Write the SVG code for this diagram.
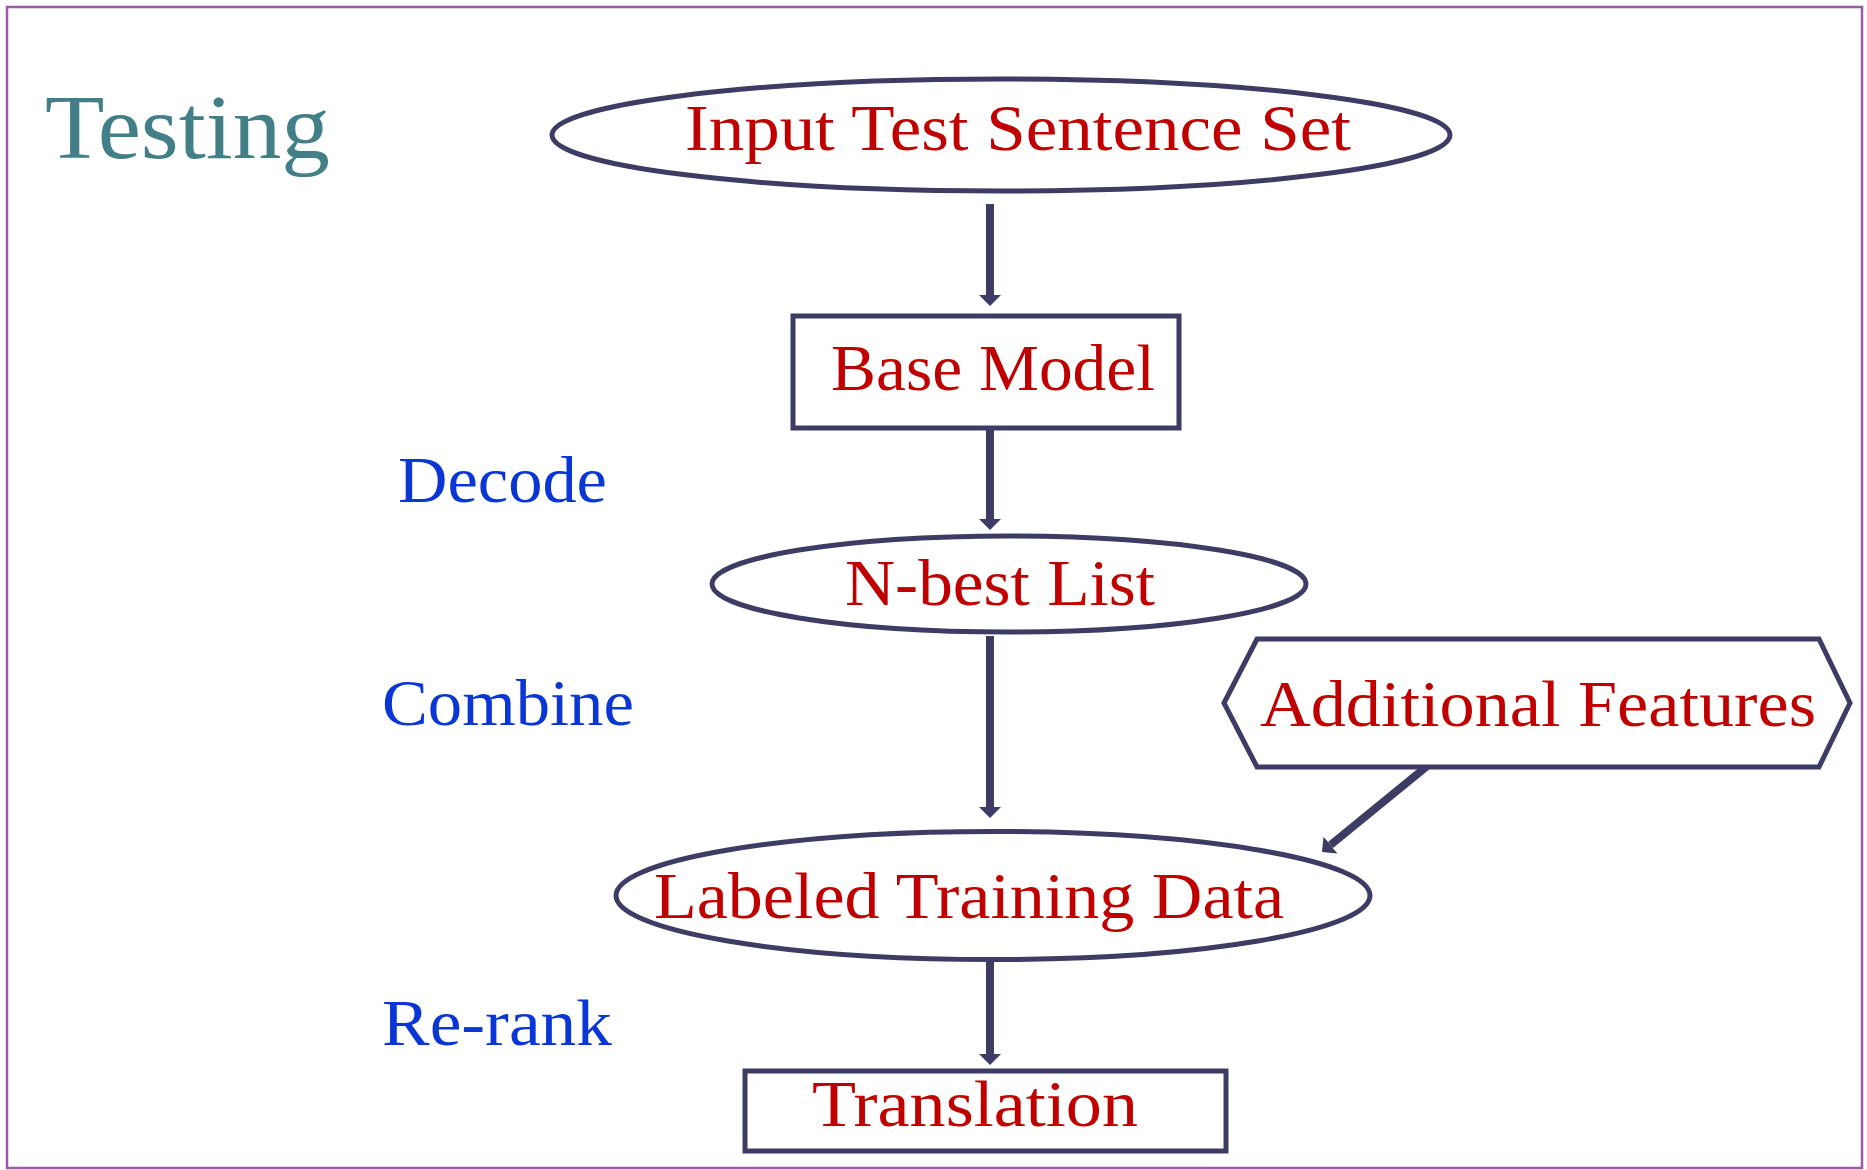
<svg xmlns="http://www.w3.org/2000/svg" width="1867" height="1170" viewBox="0 0 1867 1170">
<style>
.shape{fill:#ffffff;stroke:#3c3c64;stroke-width:5}
.red{font-family:"Liberation Serif",serif;font-size:65px;fill:#c00000}
.blue{font-family:"Liberation Serif",serif;font-size:66px;fill:#0a36d6}
.title{font-family:"Liberation Serif",serif;font-size:92px;fill:#437f86}
.conn{stroke:#3c3c64;stroke-width:8;fill:none}
</style>
<defs>
<marker id="ah" viewBox="0 -11 11 22" markerWidth="11" markerHeight="22" refX="0" refY="0" orient="auto" markerUnits="userSpaceOnUse">
<path d="M0,-11 L11,0 L0,11 z" fill="#3c3c64"/>
</marker>
</defs>
<rect x="7" y="7" width="1855" height="1161" fill="#ffffff" stroke="#9b59a6" stroke-width="2.5"/>
<text class="title" x="45" y="158" textLength="285" lengthAdjust="spacingAndGlyphs">Testing</text>
<text class="blue" x="398" y="502" textLength="209" lengthAdjust="spacingAndGlyphs">Decode</text>
<text class="blue" x="382" y="725" textLength="252" lengthAdjust="spacingAndGlyphs">Combine</text>
<text class="blue" x="382" y="1045" textLength="230" lengthAdjust="spacingAndGlyphs">Re-rank</text>
<g id="connectors">
<line class="conn" x1="990" y1="204" x2="990" y2="295" marker-end="url(#ah)"/>
<line class="conn" x1="990" y1="429" x2="990" y2="519" marker-end="url(#ah)"/>
<line class="conn" x1="990" y1="636" x2="990" y2="807" marker-end="url(#ah)"/>
<line class="conn" x1="990" y1="962" x2="990" y2="1054" marker-end="url(#ah)"/>
<line class="conn" x1="1431" y1="763" x2="1330.5" y2="845" marker-end="url(#ah)"/>
</g>
<g id="input">
<ellipse class="shape" cx="1001" cy="135" rx="449" ry="56"/>
<text class="red" x="685" y="150" textLength="666" lengthAdjust="spacingAndGlyphs">Input Test Sentence Set</text>
</g>
<g id="base-model">
<rect class="shape" x="793" y="316" width="386" height="112"/>
<text class="red" x="831" y="390" textLength="324" lengthAdjust="spacingAndGlyphs">Base Model</text>
</g>
<g id="nbest">
<ellipse class="shape" cx="1009" cy="584" rx="297" ry="48"/>
<text class="red" x="845" y="605" textLength="310" lengthAdjust="spacingAndGlyphs">N-best List</text>
</g>
<g id="features">
<polygon class="shape" points="1224,703 1257,639 1819,639 1850,703 1819,767 1257,767"/>
<text class="red" x="1260" y="726" textLength="556" lengthAdjust="spacingAndGlyphs">Additional Features</text>
</g>
<g id="labeled">
<ellipse class="shape" cx="993" cy="895.5" rx="377" ry="64"/>
<text class="red" x="654" y="918" textLength="630" lengthAdjust="spacingAndGlyphs">Labeled Training Data</text>
</g>
<g id="translation">
<rect class="shape" x="745" y="1071" width="481" height="80"/>
<text class="red" x="812" y="1126" textLength="326" lengthAdjust="spacingAndGlyphs">Translation</text>
</g>
</svg>
